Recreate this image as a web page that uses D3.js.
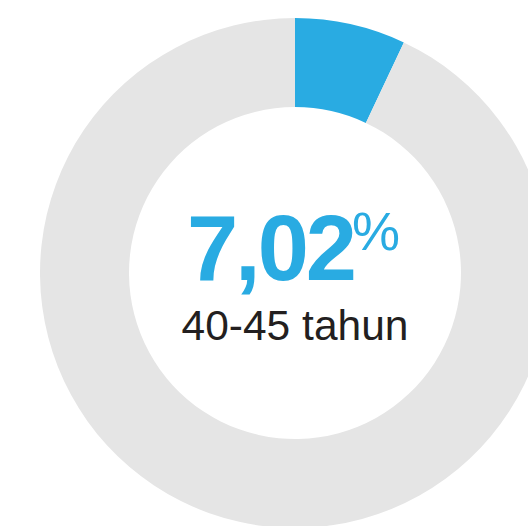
<!DOCTYPE html>
<html>
<head>
<meta charset="utf-8">
<script src="https://cdn.jsdelivr.net/npm/d3@7"></script>
<style>
  html, body { margin: 0; padding: 0; background: #fff; }
  svg { display: block; }
</style>
</head>
<body>
<svg id="donut" width="528" height="526"></svg>
<script>
// share of the 40-45 age group
const categories = ['40-45 tahun', 'lainnya'];
const values = [7.02, 92.98];
const colors = ['#29abe2', '#e5e5e5'];
const label = '40-45 tahun';

function renderDonut() {
  const svg = d3.select('#donut');
  const cx = 295, cy = 273;
  const outer = 255, inner = 166;

  const pie = d3.pie().sort(null).value(d => d.v);
  const arc = d3.arc().innerRadius(inner).outerRadius(outer);
  const data = categories.map((c, i) => ({ c, v: values[i], col: colors[i] }));

  const g = svg.append('g').attr('transform', `translate(${cx},${cy})`);
  g.selectAll('path')
    .data(pie(data))
    .enter()
    .append('path')
    .attr('d', arc)
    .attr('fill', d => d.data.col);

  const fmt = v => v.toFixed(2).replace('.', ',');

  // big number, percent sign as superscript
  g.append('text')
    .attr('x', 59)
    .attr('y', 7)
    .attr('text-anchor', 'end')
    .attr('font-family', 'Liberation Sans, Arial, sans-serif')
    .attr('font-weight', 'bold')
    .attr('font-size', 92)
    .attr('letter-spacing', -3)
    .attr('fill', colors[0])
    .text(fmt(values[0]));

  g.append('text')
    .attr('x', 57)
    .attr('y', -23)
    .attr('font-family', 'Liberation Sans, Arial, sans-serif')
    .attr('font-size', 54)
    .attr('fill', colors[0])
    .text('%');

  g.append('text')
    .attr('x', 0)
    .attr('y', 67)
    .attr('text-anchor', 'middle')
    .attr('font-family', 'Liberation Sans, Arial, sans-serif')
    .attr('font-size', 42.5)
    .attr('fill', '#231f20')
    .text(label);
}

renderDonut();
</script>
</body>
</html>
